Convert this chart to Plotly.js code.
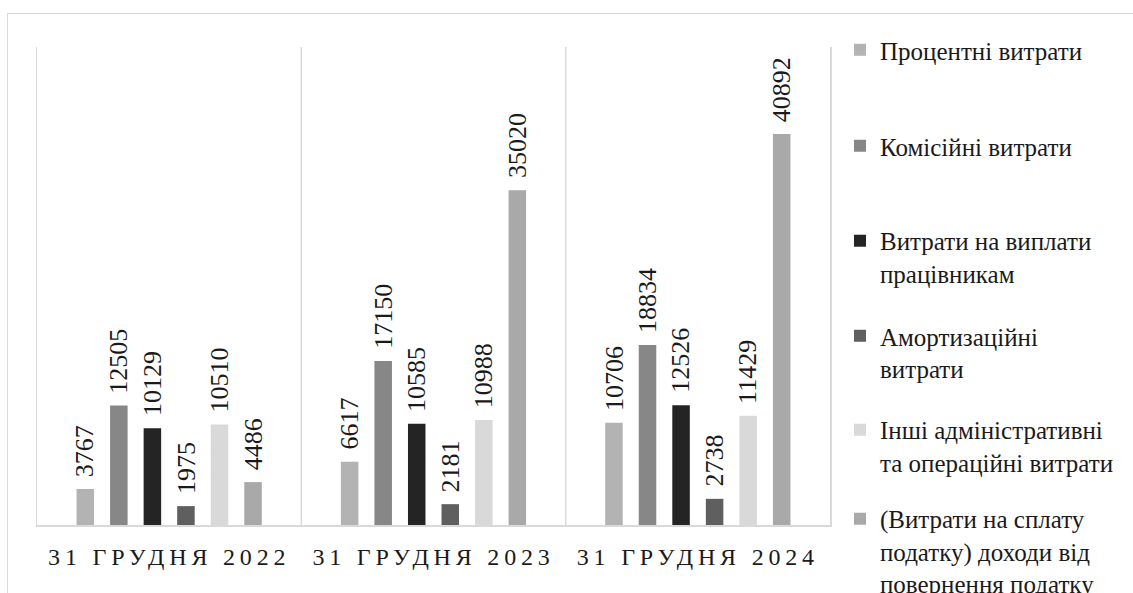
<!DOCTYPE html>
<html>
<head>
<meta charset="utf-8">
<script src="https://cdn.plot.ly/plotly-3.0.1.min.js"></script>
<style>
  html, body { margin: 0; padding: 0; background: #ffffff; overflow: hidden; }
  #wrap { position: relative; width: 1133px; height: 593px; overflow: hidden; }
  #chart { width: 1170px; height: 640px; }
  /* outer chart frame, open to the right and bottom */
  #frame {
    position: absolute; left: 7px; top: 13px; width: 1200px; height: 700px;
    border-top: 1.5px solid #d9d9d9; border-left: 1.5px solid #d9d9d9;
    pointer-events: none;
  }
  .xtick text { letter-spacing: 4.8px; }
</style>
</head>
<body>
<div id="wrap">
  <div id="chart"></div>
  <div id="frame"></div>
</div>
<script>
// Reporting dates (categories)
const categories = ['31 грудня 2022', '31 грудня 2023', '31 грудня 2024'];
const tickLabels = ['31 ГРУДНЯ 2022', '31 ГРУДНЯ 2023', '31 ГРУДНЯ 2024'];

// Expense items, values per date
const interestExpenses     = [3767, 6617, 10706];
const commissionExpenses   = [12505, 17150, 18834];
const staffExpenses        = [10129, 10585, 12526];
const depreciation         = [1975, 2181, 2738];
const otherAdminExpenses   = [10510, 10988, 11429];
const taxExpenses          = [4486, 35020, 40892];

const seriesNames = [
  'Процентні витрати',
  'Комісійні витрати',
  'Витрати на виплати<br>працівникам',
  'Амортизаційні<br>витрати',
  'Інші адміністративні<br>та операційні витрати',
  '(Витрати на сплату<br>податку) доходи від<br>повернення податку'
];
const seriesValues = [interestExpenses, commissionExpenses, staffExpenses,
                      depreciation, otherAdminExpenses, taxExpenses];
const seriesColors = ['#b3b3b3', '#878787', '#242424', '#5f5f5f', '#d9d9d9', '#a9a9a9'];

const BARGAP = 0.2386;
const BARGROUPGAP = 0.478;
const SERIF = 'Liberation Serif';

// one legend box per series, stacked down the right side
const legendIds = ['legend', 'legend2', 'legend3', 'legend4', 'legend5', 'legend6'];
const legendTops = [1.0418, 0.8410, 0.6423, 0.4435, 0.2469, 0.0607];

const xIdx = categories.map((_, j) => j);

const traces = seriesValues.map((vals, i) => ({
  type: 'bar',
  x: xIdx,
  y: vals,
  name: seriesNames[i],
  legend: legendIds[i],
  marker: { color: seriesColors[i], line: { width: 0 } },
  hoverinfo: 'skip'
}));

// vertical value labels above each bar
const nSeries = seriesValues.length;
const slot = (1 - BARGAP) / nSeries;
const annotations = [];
seriesValues.forEach((vals, i) => {
  vals.forEach((v, j) => {
    annotations.push({
      x: j + (i - (nSeries - 1) / 2) * slot,
      y: v,
      xref: 'x', yref: 'y',
      text: String(v),
      showarrow: false,
      textangle: -90,
      xanchor: 'center',
      yanchor: 'bottom',
      yshift: 10,
      font: { family: SERIF, size: 26, color: '#1a1a1a' }
    });
  });
});

const layout = {
  width: 1170,
  height: 640,
  margin: { l: 37, r: 340, t: 47, b: 115 },
  paper_bgcolor: '#ffffff',
  plot_bgcolor: '#ffffff',
  barmode: 'group',
  bargap: BARGAP,
  bargroupgap: BARGROUPGAP,
  showlegend: true,
  font: { family: SERIF, color: '#1a1a1a' },
  xaxis: {
    type: 'linear',
    range: [-0.5, 2.5],
    tickmode: 'array',
    tickvals: xIdx,
    ticktext: tickLabels,
    showgrid: false,
    zeroline: false,
    showline: true,
    linecolor: '#d9d9d9',
    linewidth: 1.5,
    ticks: '',
    ticklabelstandoff: 10,
    tickfont: { family: SERIF, size: 24, color: '#1a1a1a' }
  },
  yaxis: {
    range: [0, 50000],
    showgrid: false,
    zeroline: false,
    showticklabels: false,
    ticks: '',
    showline: true,
    mirror: true,
    linecolor: '#d9d9d9',
    linewidth: 1.5
  },
  shapes: [1.5, 0.5].map(b => ({
    type: 'line', xref: 'x', yref: 'paper',
    x0: b, x1: b, y0: 0, y1: 1,
    line: { color: '#d9d9d9', width: 1.5 }
  })),
  annotations: annotations
};

legendIds.forEach((id, i) => {
  layout[id] = {
    x: 1.0126,
    xanchor: 'left',
    y: legendTops[i],
    yanchor: 'top',
    valign: 'top',
    bgcolor: 'rgba(0,0,0,0)',
    font: { family: SERIF, size: 25, color: '#1a1a1a' }
  };
});

Plotly.newPlot('chart', traces, layout, { displayModeBar: false, staticPlot: true });
</script>
</body>
</html>
